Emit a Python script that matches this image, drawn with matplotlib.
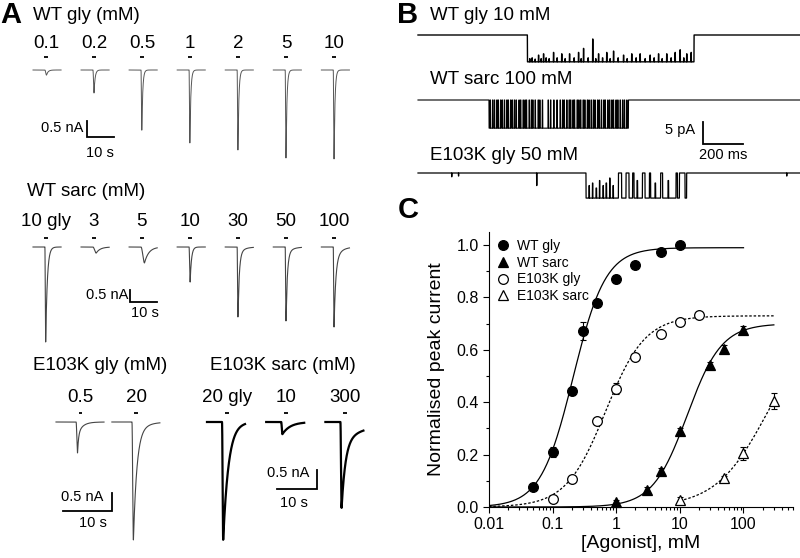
import numpy as np
import matplotlib.pyplot as plt
from matplotlib import transforms
from matplotlib.lines import Line2D
from matplotlib.ticker import FixedLocator, NullFormatter, MultipleLocator

plt.rcParams['font.family'] = ['Liberation Sans', 'DejaVu Sans']

# ---------------- data ----------------
# panel A, whole-cell peaks (nA) and kinetics (s)
wtgly_lbl = ['0.1', '0.2', '0.5', '1', '2', '5', '10']
wtgly_peak = [0.16, 0.72, 1.88, 2.28, 2.50, 2.75, 2.78]
wtgly_rise = [0.6, 0.4, 0.3, 0.3, 0.3, 0.3, 0.3]
wtgly_tau = [0.6, 0.4, 0.35, 0.35, 0.35, 0.35, 0.35]

wtsarc_lbl = ['10 gly', '3', '5', '10', '30', '50', '100']
wtsarc_peak = [4.06, 0.26, 0.68, 1.50, 2.99, 3.16, 3.42]
wtsarc_rise = [0.3, 1.2, 1.3, 0.4, 0.3, 0.3, 0.3]
wtsarc_tau = [0.6, 1.5, 1.6, 0.5, 0.5, 0.5, 0.6]
wtsarc_slow = [0.0, 0.0, 0.0, 0.0, 0.1, 0.1, 0.2]

egly_lbl = ['0.5', '20']
egly_peak = [0.86, 3.28]
egly_rise = [0.3, 0.3]
egly_tau = [0.2, 0.7]
egly_slow = [0.4, 0.1]
egly_tau_s = [1.0, 2.0]

esarc_lbl = ['20 gly', '10', '300']
esarc_peak = [3.10, 0.32, 2.26]
esarc_rise = [0.3, 0.3, 0.3]
esarc_tau = [1.35, 2.0, 1.0]
esarc_slow = [0.0, 0.0, 0.2]
esarc_tau_s = [1.0, 1.0, 7.5]

# panel B, single channels (ms, pA)
b1_amp, b1_burst = 6.1, (537, 1370)
b1_close_t = [548, 560, 575, 592, 605, 617, 630, 645, 667, 685, 708, 725, 747,
              770, 792, 805, 817, 840, 863, 878, 892, 912, 933, 950, 967, 990,
              1017, 1035, 1058, 1080, 1100, 1125, 1150, 1170, 1192, 1210, 1233,
              1255, 1275, 1300, 1318, 1333, 1355]
b1_close_d = [0.12, 0.15, 0.1, 0.25, 0.12, 0.3, 0.15, 0.12, 0.35, 0.15, 0.3,
              0.12, 0.3, 0.15, 0.35, 0.12, 0.5, 0.15, 0.85, 0.12, 0.3, 0.15,
              0.35, 0.12, 0.4, 0.15, 0.25, 0.12, 0.3, 0.15, 0.3, 0.12, 0.25,
              0.15, 0.3, 0.12, 0.3, 0.15, 0.35, 0.45, 0.15, 0.3, 0.35]

b2_amp, b2_burst = 6.4, (345, 1042)
b2_close_t = [350, 362, 371, 383, 390, 402, 410, 421, 433, 440, 452, 460, 471,
              480, 494, 502, 515, 524, 531, 545, 556, 563, 575, 590, 598, 611,
              640, 652, 668, 684, 700, 712, 720, 733, 745, 752, 764, 771, 785,
              793, 802, 815, 823, 836, 844, 855, 866, 874, 887, 895, 906, 918,
              925, 938, 947, 958, 966, 979, 988, 1000, 1012, 1021, 1033]

b3_amp, b3_burst = 5.7, (830, 1333)
b3_close_t = [845, 862, 880, 897, 915, 930, 948, 965, 992, 1030, 1063, 1085,
              1112, 1147, 1175, 1203, 1240, 1280, 1297]
b3_close_dur = [2, 2, 3, 2, 2, 3, 2, 2, 16, 15, 7, 3, 13, 6, 3, 10, 3, 7, 28]
b3_close_d = [0.5, 0.6, 0.4, 0.7, 0.5, 0.6, 0.8, 0.5, 1, 1, 1, 0.7, 1, 1, 0.6,
              1, 0.7, 1, 1]
b3_open_t = [158, 192, 583, 1833]
b3_open_d = [0.15, 0.12, 0.5, 0.12]

# panel C, concentration-response
wtgly_c = [0.05, 0.1, 0.2, 0.3, 0.5, 1, 2, 5, 10]
wtgly_y = [0.075, 0.211, 0.444, 0.673, 0.779, 0.869, 0.924, 0.975, 1.0]
wtgly_e = [0.01, 0.02, 0.015, 0.035, 0.01, 0.015, 0.01, 0.01, 0.005]
wtsarc_c = [1, 3, 5, 10, 30, 50, 100]
wtsarc_y = [0.02, 0.065, 0.139, 0.29, 0.542, 0.602, 0.676]
wtsarc_e = [0.005, 0.01, 0.01, 0.01, 0.01, 0.015, 0.015]
egly_c = [0.1, 0.2, 0.5, 1, 2, 5, 10, 20]
egly_y = [0.03, 0.107, 0.33, 0.452, 0.571, 0.66, 0.706, 0.735]
egly_e = [0.01, 0.01, 0.01, 0.02, 0.01, 0.01, 0.01, 0.01]
esarc_c = [10, 50, 100, 300]
esarc_y = [0.027, 0.11, 0.205, 0.405]
esarc_e = [0.01, 0.01, 0.025, 0.03]

# Hill fits: Imax, EC50 (mM), nH, range
fit_imax = [0.99, 0.70, 0.73, 0.73]
fit_ec50 = [0.21, 13.0, 0.68, 243.0]
fit_nh = [1.7, 1.6, 1.4, 1.06]
fit_lo = [0.01, 0.01, 0.01, 10]
fit_hi = [100, 300, 300, 300]

# ---------------- figure ----------------
W, H = 800, 558
fig = plt.figure(figsize=(W / 100, H / 100), dpi=100)


def ftext(x, y, s, **kw):
    kw.setdefault('va', 'center')
    fig.text(x / W, 1 - y / H, s, **kw)


def px_axes(l, t, r, b):
    return fig.add_axes([l / W, 1 - b / H, (r - l) / W, (b - t) / H])


def trace_axes(box, x0, y0, px_x, px_y):
    l, t, r, b = box
    ax = px_axes(l, t, r, b)
    ax.set_xlim((l - x0) / px_x, (r - x0) / px_x)
    ax.set_ylim((y0 - b) / px_y, (y0 - t) / px_y)
    ax.axis('off')
    return ax


def whole_cell(t, t_on, peak, rise, tau, slow=0.0, tau_s=1.0):
    y = np.zeros_like(t)
    r = (t >= t_on) & (t < t_on + rise)
    y[r] = -peak * (1 - np.cos(np.pi * (t[r] - t_on) / rise)) / 2
    d = t >= t_on + rise
    dt = t[d] - t_on - rise
    y[d] = -peak * ((1 - slow) * np.exp(-dt / tau) + slow * np.exp(-dt / tau_s))
    return y


def draw_row(box, x0, y0, px_s, px_nA, labels, peaks, rises, taus, slows, tau_ss,
             spacing, t_on, length, bar_off, bar_len, lab_y, bar_y, lw, color):
    ax = trace_axes(box, x0, y0, px_s, px_nA)
    tr = transforms.blended_transform_factory(ax.transData, fig.transFigure)
    t = np.linspace(0, length, 900)
    for i in range(len(peaks)):
        off = i * spacing
        y = whole_cell(t, t_on, peaks[i], rises[i], taus[i], slows[i], tau_ss[i])
        ax.plot(t + off, y, color=color, lw=lw)
        xb = off + t_on + bar_off
        ax.plot([xb, xb + bar_len], [1 - bar_y / H] * 2, color='black', lw=1.3,
                transform=tr, solid_capstyle='butt')
        ax.text(xb + bar_len / 2, 1 - lab_y / H, labels[i], transform=tr,
                ha='center', va='center', fontsize=13.5)
    return ax


def scalebar(ax, corner, x0, y0, px_x, px_y, dx, dy, right=False):
    cx = (corner[0] - x0) / px_x
    cy = (y0 - corner[1]) / px_y
    hx = cx - dx if right else cx + dx
    ax.plot([cx, cx, hx], [cy + dy, cy, cy], color='black', lw=1.3,
            solid_joinstyle='miter', clip_on=False)


n = len
# row 1: WT gly
ax1 = draw_row((20, 30, 410, 170), 33, 70, 2.7, 32, wtgly_lbl, wtgly_peak,
               wtgly_rise, wtgly_tau, [0] * 7, [1] * 7, 17.8, 4.4, 10.4,
               -0.4, 1.5, 43, 57, 0.7, '#555555')
scalebar(ax1, (87, 137), 33, 70, 2.7, 32, 10, 0.5)
ftext(83, 128, '0.5 nA', ha='right', fontsize=10.5)
ftext(100, 153, '10 s', ha='center', fontsize=10.5)

# row 2: WT sarc
ax2 = draw_row((20, 205, 410, 365), 33, 247, 2.7, 23.4, wtsarc_lbl, wtsarc_peak,
               wtsarc_rise, wtsarc_tau, wtsarc_slow, [2.0] * 7, 17.8, 4.4, 10.4,
               -0.4, 1.5, 222, 238, 0.8, '#444444')
scalebar(ax2, (130, 302), 33, 247, 2.7, 23.4, 10, 0.5)
ftext(128, 295, '0.5 nA', ha='right', fontsize=10.5)
ftext(145, 313, '10 s', ha='center', fontsize=10.5)

# row 3: E103K gly
ax3 = draw_row((20, 385, 200, 558), 56, 422, 4.9, 36, egly_lbl, egly_peak,
               egly_rise, egly_tau, egly_slow, egly_tau_s, 11.4, 4.1, 9.8,
               0.5, 0.8, 398, 413, 0.8, '#444444')
scalebar(ax3, (112, 511), 56, 422, 4.9, 36, 10, 0.5, right=True)
ftext(103, 497, '0.5 nA', ha='right', fontsize=10.5)
ftext(93, 523, '10 s', ha='center', fontsize=10.5)

# row 3: E103K sarc
ax4 = draw_row((200, 385, 400, 558), 207, 422, 4.0, 38, esarc_lbl, esarc_peak,
               esarc_rise, esarc_tau, esarc_slow, esarc_tau_s, 14.8, 3.75, 9.5,
               0.7, 1.0, 398, 413, 1.6, 'black')
scalebar(ax4, (317, 489), 207, 422, 4.0, 38, 10, 0.5, right=True)
ftext(309, 473, '0.5 nA', ha='right', fontsize=10.5)
ftext(294, 503, '10 s', ha='center', fontsize=10.5)

ftext(0, 15, 'A', fontsize=21, fontweight='bold')
ftext(33, 15, 'WT gly (mM)', fontsize=13.5)
ftext(27, 192, 'WT sarc (mM)', fontsize=13.5)
ftext(33, 365, 'E103K gly (mM)', fontsize=13.5)
ftext(210, 365, 'E103K sarc (mM)', fontsize=13.5)


# ---------------- panel B ----------------
def channel(t, amp, burst, close_t, close_dur, close_d, open_t=(), open_d=()):
    s = ((t >= burst[0]) & (t < burst[1])).astype(float)
    for c, d, dep in zip(close_t, close_dur, close_d):
        s[(t >= c) & (t < c + d)] -= dep
    for o, dep in zip(open_t, open_d):
        s[(t >= o) & (t < o + 1.5)] += dep
    return -amp * s


tb = np.arange(-10, 1900, 0.25)
b_rows = [
    ((410, 25, 800, 75), 35, channel(tb, b1_amp, b1_burst, b1_close_t,
                                      [1.5] * n(b1_close_t), b1_close_d), 1.0),
    ((410, 90, 800, 140), 100, channel(tb, b2_amp, b2_burst, b2_close_t,
                                        [2.5] * n(b2_close_t), [1] * n(b2_close_t)), 0.8),
    ((410, 163, 800, 210), 173, channel(tb, b3_amp, b3_burst, b3_close_t,
                                         b3_close_dur, b3_close_d, b3_open_t, b3_open_d), 0.9),
]
for box, y0, yv, lw in b_rows:
    axb = trace_axes(box, 420, y0, 0.2, 4.4)
    axb.plot(tb, yv, color='black', lw=lw)
    if y0 == 100:
        scalebar(axb, (703, 144), 420, 100, 0.2, 4.4, 200, 5)

ftext(397, 15, 'B', fontsize=21, fontweight='bold')
ftext(430, 15, 'WT gly 10 mM', fontsize=13.5)
ftext(430, 80, 'WT sarc 100 mM', fontsize=13.5)
ftext(430, 155, 'E103K gly 50 mM', fontsize=13.5)
ftext(695, 130, '5 pA', ha='right', fontsize=10.5)
ftext(723, 155, '200 ms', ha='center', fontsize=10.5)

# ---------------- panel C ----------------
axc = px_axes(489, 232, 793, 507)
series = [
    (wtgly_c, wtgly_y, wtgly_e, 'o', 'black', 'WT gly', '-'),
    (wtsarc_c, wtsarc_y, wtsarc_e, '^', 'black', 'WT sarc', '-'),
    (egly_c, egly_y, egly_e, 'o', 'white', 'E103K gly', (0, (2, 1.5))),
    (esarc_c, esarc_y, esarc_e, '^', 'white', 'E103K sarc', (0, (2, 1.5))),
]
handles = []
for i, (c, y, e, mk, fc, lab, ls) in enumerate(series):
    xx = np.logspace(np.log10(fit_lo[i]), np.log10(fit_hi[i]), 300)
    yy = fit_imax[i] / (1 + (fit_ec50[i] / xx) ** fit_nh[i])
    axc.plot(xx, yy, color='black', lw=0.9, ls=ls)
    axc.errorbar(c, y, yerr=e, fmt='none', ecolor='black', elinewidth=0.8,
                 capsize=2, capthick=0.8, clip_on=False)
    axc.plot(c, y, ls='none', marker=mk, ms=7, mfc=fc, mec='black', mew=0.9,
             clip_on=False, zorder=3)
    handles.append(Line2D([], [], ls='none', marker=mk, ms=7, mfc=fc,
                          mec='black', mew=0.9, label=lab))

axc.set_xscale('log')
axc.set_xlim(0.01, 600)
axc.set_ylim(0, 1.05)
axc.xaxis.set_major_locator(FixedLocator([0.01, 0.1, 1, 10, 100]))
axc.set_xticklabels(['0.01', '0.1', '1', '10', '100'])
axc.xaxis.set_minor_locator(FixedLocator(
    [m * 10.0 ** k for k in range(-2, 3) for m in range(2, 10)]))
axc.xaxis.set_minor_formatter(NullFormatter())
axc.yaxis.set_major_locator(MultipleLocator(0.2))
axc.yaxis.set_minor_locator(MultipleLocator(0.1))
axc.yaxis.set_major_formatter(lambda v, p: f'{v:.1f}')
for s in ('top', 'right'):
    axc.spines[s].set_visible(False)
axc.tick_params(which='both', direction='out', labelsize=11.5, width=0.8)
axc.tick_params(which='major', length=4)
axc.tick_params(which='minor', length=2.5)
axc.set_xlabel('[Agonist], mM', fontsize=14)
axc.set_ylabel('Normalised peak current', fontsize=14)
axc.xaxis.set_label_coords(0.5, -0.1)
axc.yaxis.set_label_coords(-0.145, 0.5)
axc.legend(handles=handles, loc='upper left', bbox_to_anchor=(0.0, 1.0),
           frameon=False, fontsize=10, handlelength=1.0, handletextpad=0.5,
           labelspacing=0.2, borderaxespad=0.3, borderpad=0.2)
ftext(398, 210, 'C', fontsize=21, fontweight='bold')

fig.savefig('out.png', dpi=100)
